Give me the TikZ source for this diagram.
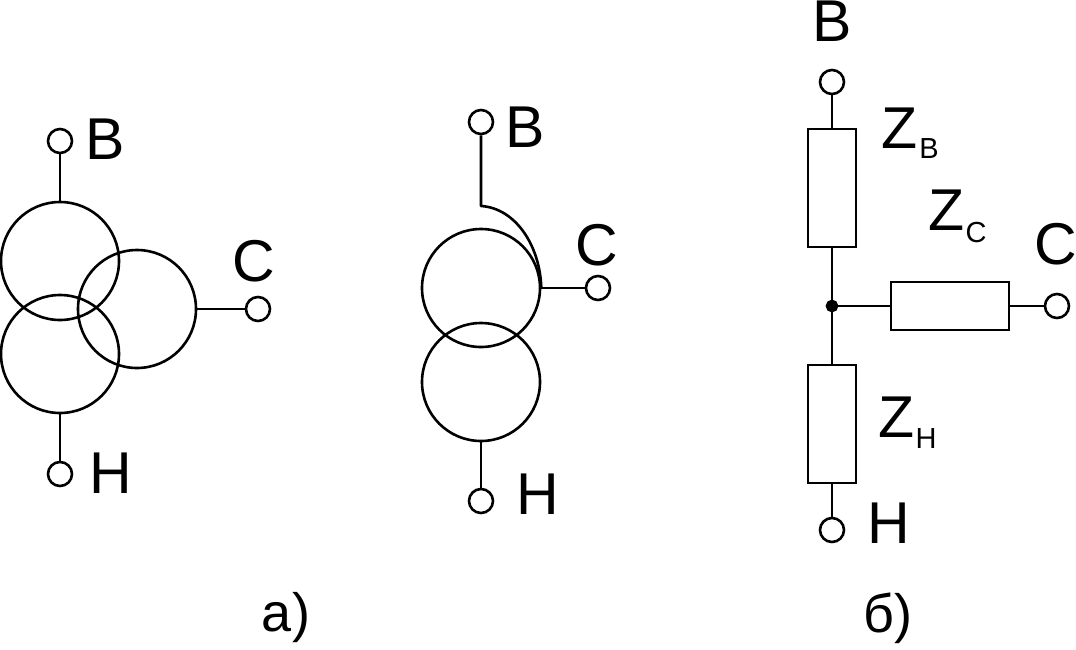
\documentclass[tikz,border=0pt]{standalone}
\usepackage{fontspec}
\setmainfont{Liberation Sans}
\begin{document}
\begin{tikzpicture}[x=1pt,y=-1pt,line width=2.6pt,
  term/.style={draw,circle,fill=white,inner sep=0pt,minimum size=24pt},
  winding/.style={draw,circle,inner sep=0pt,minimum size=118pt},
  imped/.style={draw,rectangle,inner sep=0pt,minimum width=48pt,minimum height=118pt},
  impedh/.style={draw,rectangle,inner sep=0pt,minimum width=118pt,minimum height=48pt},
  lbl/.style={inner sep=0pt,font=\fontsize{59pt}{59pt}\selectfont},
  sublbl/.style={inner sep=0pt,font=\fontsize{29pt}{29pt}\selectfont},
  caplbl/.style={inner sep=0pt,font=\fontsize{54pt}{54pt}\selectfont},
  dot/.style={draw,circle,fill=black,inner sep=0pt,minimum size=10pt}]
\useasboundingbox (0,0) rectangle (1076,649);

% --- a), left symbol ---
\node[winding] (w1) at (60,261) {};
\node[winding] (w2) at (60,354) {};
\node[winding] (w3) at (137,309) {};
\node[term] (tv1) at (60,141) {};
\node[term] (tn1) at (60,474) {};
\node[term] (tc1) at (258,309) {};
\draw (tv1) -- (w1);
\draw (tn1) -- (w2);
\draw (w3) -- (tc1);
\node[lbl] (lv1) at (105,139) {В};
\node[lbl] (ln1) at (111,473) {Н};
\node[lbl] (lc1) at (254,261) {С};

% --- a), right symbol ---
\node[winding] (w4) at (481,288) {};
\node[winding] (w5) at (481,382) {};
\node[term] (tv2) at (481,122) {};
\node[term] (tn2) at (481,501) {};
\node[term] (tc2) at (598,288) {};
\draw[line join=round] (tv2) -- (481,206) .. controls (515,208) and (540,245) .. (w4.east);
\draw (tn2) -- (w5);
\draw (w4) -- (tc2);
\node[lbl] (lv2) at (525,127) {В};
\node[lbl] (ln2) at (538,494) {Н};
\node[lbl] (lc2) at (597,245) {С};

% --- b) ---
\node[dot] (star) at (832,306) {};
\node[imped] (zv) at (832,188) {};
\node[imped] (zn) at (832,424) {};
\node[impedh] (zc) at (950,306) {};
\node[term] (tv3) at (832,82) {};
\node[term] (tn3) at (832,530) {};
\node[term] (tc3) at (1057,306) {};
\draw (tv3) -- (zv);
\draw (zv) -- (star);
\draw (star) -- (zn);
\draw (zn) -- (tn3);
\draw (star) -- (zc);
\draw (zc) -- (tc3);
\node[lbl] (lv3) at (832,21) {В};
\node[lbl] (ln3) at (889,523) {Н};
\node[lbl] (lc3) at (1056,244) {С};
\node[lbl] (lzv) at (900,128) {Z};
\node[sublbl] (szv) at (929,149) {В};
\node[lbl] (lzc) at (947,210) {Z};
\node[sublbl] (szc) at (976,233) {С};
\node[lbl] (lzn) at (897,417) {Z};
\node[sublbl] (szn) at (926,439) {Н};

% --- captions ---
\node[caplbl] (capa) at (286,618) {а)};
\node[caplbl] (capb) at (888,618) {б)};
\end{tikzpicture}
\end{document}
